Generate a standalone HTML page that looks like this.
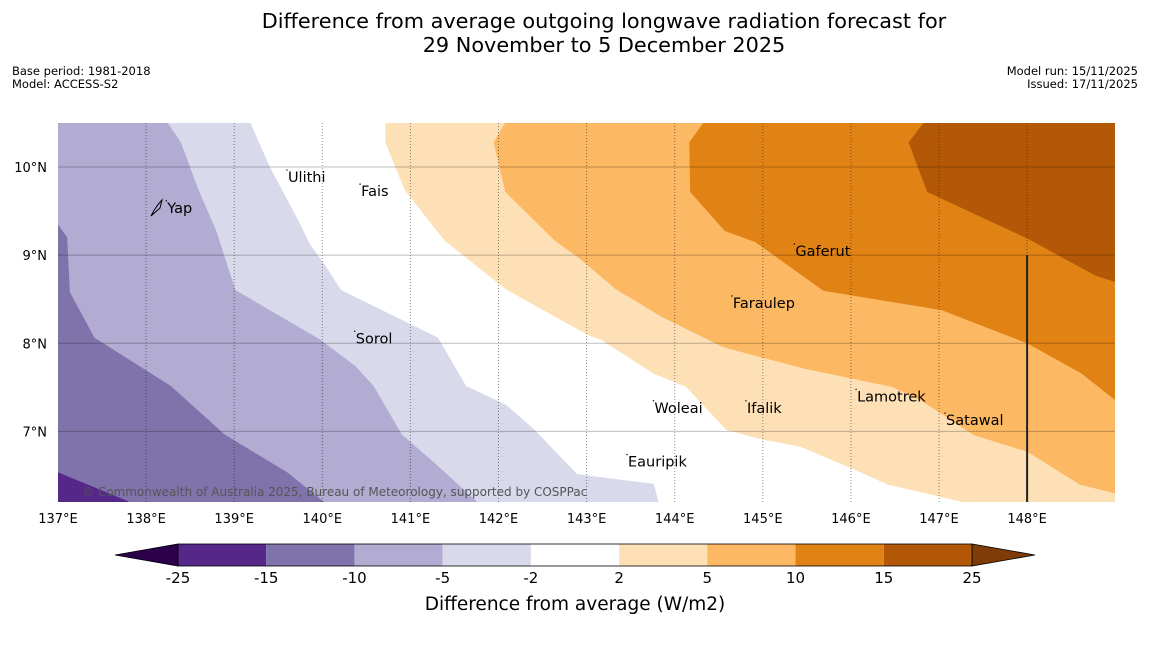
<!DOCTYPE html>
<html><head><meta charset="utf-8"><style>
body{margin:0;background:#fff;font-family:"Liberation Sans","DejaVu Sans",sans-serif;}
svg text{font-family:"DejaVu Sans","Liberation Sans",sans-serif;}
</style></head><body>
<svg id="chart" width="1150" height="644" viewBox="0 0 1150 644" xmlns="http://www.w3.org/2000/svg">
<text x="604" y="28" font-size="20.8" text-anchor="middle">Difference from average outgoing longwave radiation forecast for</text>
<text x="604" y="52" font-size="20.8" text-anchor="middle">29 November to 5 December 2025</text>
<text x="12" y="75" font-size="11.5">Base period: 1981-2018</text>
<text x="12" y="88" font-size="11.5">Model: ACCESS-S2</text>
<text x="1138" y="75" font-size="11.5" text-anchor="end">Model run: 15/11/2025</text>
<text x="1138" y="88" font-size="11.5" text-anchor="end">Issued: 17/11/2025</text>
<defs><clipPath id="mapclip"><rect x="58" y="123" width="1057" height="379"/></clipPath></defs>
<g id="map" clip-path="url(#mapclip)"></g>
<g id="overlay"></g>
<g id="cbar"></g>
<text x="575" y="610" font-size="18.5" text-anchor="middle">Difference from average (W/m2)</text>
</svg>
<script>
const lonTicks=[137,138,139,140,141,142,143,144,145,146,147,148];
const latTicks=[10,9,8,7];
const cbarLevels=[-25,-15,-10,-5,-2,2,5,10,15,25];
const cbarColors=['#542788','#8073ac','#b2abd2','#d8daeb','#ffffff','#fee0b6','#fdb863','#e08214','#b35806'];
// contour boundaries (lon, lat)
const bM2=[[137,10.5],[139.18,10.5],[139.40,10.0],[139.72,9.40],[139.85,9.13],[140.01,8.91],[140.21,8.60],[141.31,8.06],[141.63,7.51],[142.08,7.30],[142.40,7.02],[142.89,6.51],[143.76,6.40],[143.81,6.2],[137,6.2]];
const bM5=[[137,10.5],[138.24,10.5],[138.39,10.28],[138.59,9.74],[138.79,9.28],[139.01,8.60],[139.97,8.04],[140.37,7.74],[140.58,7.51],[140.90,6.96],[141.27,6.64],[141.75,6.2],[137,6.2]];
const bM10=[[137,9.34],[137.1,9.2],[137.13,8.58],[137.41,8.06],[138.28,7.51],[138.89,6.96],[139.60,6.53],[140.01,6.2],[137,6.2]];
const bM15=[[137,6.53],[137.80,6.2],[137,6.2]];
const bP2=[[140.72,10.5],[140.72,10.28],[140.94,9.74],[141.39,9.17],[142.08,8.62],[143.01,8.10],[143.17,8.04],[143.76,7.66],[144.13,7.51],[144.59,7.02],[144.96,6.92],[145.43,6.83],[146.02,6.58],[146.42,6.40],[147.28,6.2],[149,6.2],[149,10.5]];
const bP5=[[142.08,10.5],[141.95,10.28],[142.08,9.72],[142.64,9.17],[142.93,8.96],[143.33,8.62],[143.86,8.30],[144.55,7.96],[145.45,7.72],[146.46,7.51],[146.79,7.36],[147.40,6.96],[148.01,6.77],[148.60,6.40],[149,6.30],[149,10.5]];
const bP10=[[144.33,10.5],[144.17,10.28],[144.18,9.72],[144.57,9.28],[144.92,9.15],[145.69,8.60],[147.03,8.38],[148.01,8.0],[148.62,7.66],[149,7.36],[149,10.5]];
const bP15=[[146.83,10.5],[146.66,10.28],[146.87,9.72],[148.01,9.19],[148.78,8.77],[149,8.70],[149,10.5]];
const places=['Ulithi','Fais','Yap','Gaferut','Faraulep','Sorol','Woleai','Ifalik','Lamotrek','Satawal','Eauripik'];
const placeLon=[139.61,140.44,138.24,145.37,144.66,140.38,143.77,144.82,146.07,147.08,143.47];
const placeLat=[9.83,9.67,9.48,8.99,8.40,8.00,7.21,7.21,7.34,7.07,6.60];
const NS='http://www.w3.org/2000/svg';
const X=lon=>58+(lon-137)*88.1;
const Y=lat=>123+(10.5-lat)*88.1;
function mk(tag,attrs,parent){const e=document.createElementNS(NS,tag);for(const k in attrs)e.setAttribute(k,attrs[k]);parent.appendChild(e);return e;}
const map=document.getElementById('map'),ov=document.getElementById('overlay'),cb=document.getElementById('cbar');
const layers=[[bM2,cbarColors[3],'contour-minus-5-to-minus-2'],[bM5,cbarColors[2],'contour-minus-10-to-minus-5'],[bM10,cbarColors[1],'contour-minus-15-to-minus-10'],[bM15,cbarColors[0],'contour-minus-25-to-minus-15'],[bP2,cbarColors[5],'contour-2-to-5'],[bP5,cbarColors[6],'contour-5-to-10'],[bP10,cbarColors[7],'contour-10-to-15'],[bP15,cbarColors[8],'contour-15-to-25']];
for(const [pts,col,nm] of layers){
  const p=mk('polygon',{points:pts.map(q=>X(q[0])+','+Y(q[1])).join(' '),fill:col,stroke:col,'stroke-width':0.8},map);
  
  
}
for(const lat of latTicks){
  const l=mk('line',{x1:58,x2:1115,y1:Y(lat),y2:Y(lat),stroke:'rgba(0,0,0,0.25)','stroke-width':1},ov);
  
  
  const t=mk('text',{x:47,y:Y(lat)+5,'font-size':13,'text-anchor':'end'},ov);t.textContent=lat+'°N';
  
  
}
for(const lon of lonTicks){
  if(lon>137){const l=mk('line',{x1:X(lon),x2:X(lon),y1:123,y2:502,stroke:'rgba(0,0,0,0.45)','stroke-width':1,'stroke-dasharray':'1,2'},ov);
  
  }
  const t=mk('text',{x:X(lon),y:523,'font-size':13,'text-anchor':'middle'},ov);t.textContent=lon+'°E';
  
  
}
const bl=mk('line',{x1:X(148),x2:X(148),y1:Y(9),y2:502,stroke:'#222','stroke-width':2},ov);


for(let i=0;i<places.length;i++){
  const d=mk('circle',{cx:X(placeLon[i])-1,cy:Y(placeLat[i])-12,r:0.7,fill:'#000'},ov);
  
  
  const t=mk('text',{x:X(placeLon[i]),y:Y(placeLat[i]),'font-size':14.5},ov);t.textContent=places[i];
  
  
}
const yi=mk('path',{d:'M151,216 C154,210 158,204 162,200 L160,208 Z',fill:'none',stroke:'#000','stroke-width':1},ov);


const cp=mk('text',{x:82,y:496,'font-size':12,fill:'#555'},ov);cp.textContent='© Commonwealth of Australia 2025, Bureau of Meteorology, supported by COSPPac';


// colorbar
const cx0=178,cx1=972,cy0=544,cy1=566,n=cbarColors.length,w=(cx1-cx0)/n;
const lt=mk('polygon',{points:`115,555 ${cx0},${cy0} ${cx0},${cy1}`,fill:'#2d004b',stroke:'#000','stroke-width':0.8},cb);


const rt=mk('polygon',{points:`1035,555 ${cx1},${cy0} ${cx1},${cy1}`,fill:'#7f3b08',stroke:'#000','stroke-width':0.8},cb);


for(let i=0;i<n;i++){
  const r=mk('rect',{x:cx0+i*w,y:cy0,width:w,height:cy1-cy0,fill:cbarColors[i]},cb);
  
  
}
mk('rect',{x:cx0,y:cy0,width:cx1-cx0,height:cy1-cy0,fill:'none',stroke:'#000','stroke-width':0.8},cb);
for(let i=0;i<cbarLevels.length;i++){
  const t=mk('text',{x:cx0+i*w,y:583,'font-size':15,'text-anchor':'middle'},cb);t.textContent=cbarLevels[i];
  
  
}
</script>
</body></html>
